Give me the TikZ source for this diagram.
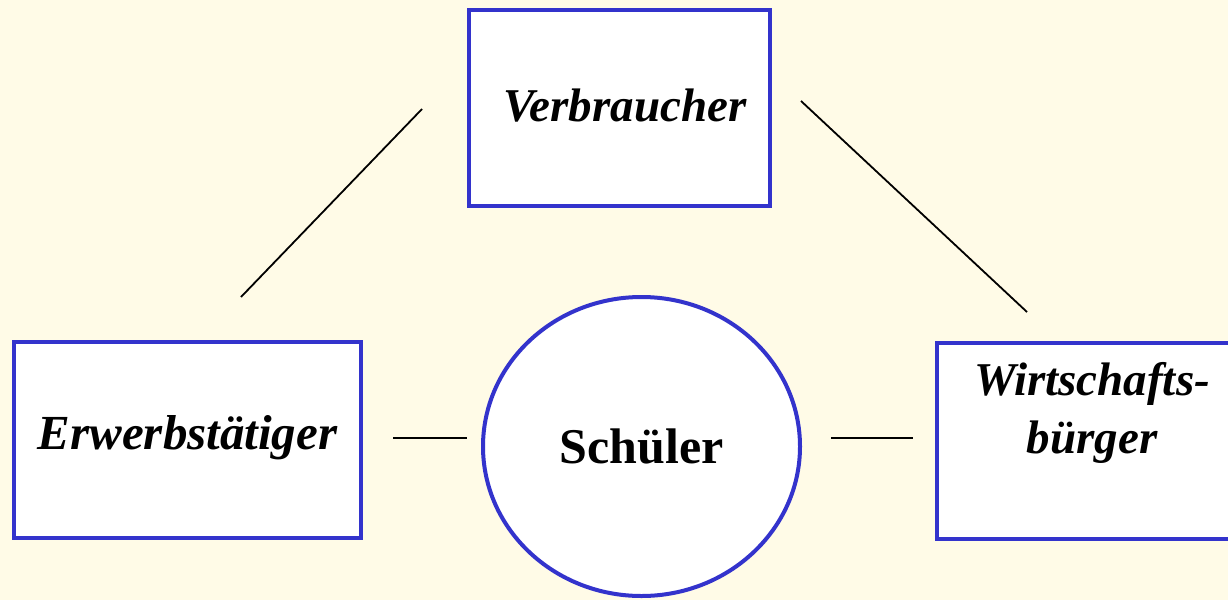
\documentclass[tikz,border=0pt]{standalone}
\usepackage{fontspec}
\setmainfont{Liberation Serif}
\usetikzlibrary{shapes.geometric}
\definecolor{bgcream}{HTML}{FFFBE7}
\definecolor{boxblue}{HTML}{3333CC}
\tikzset{
  rolebox/.style={draw=boxblue, fill=white, line width=4pt, rectangle, inner sep=0pt},
  roletext/.style={font=\fontsize{47}{58}\selectfont\bfseries\itshape, inner sep=0pt, align=center},
  centre/.style={draw=boxblue, fill=white, line width=4pt, ellipse, inner sep=0pt,
    minimum width=317pt, minimum height=299pt, font=\fontsize{50}{58}\selectfont\bfseries},
  link/.style={draw=black, line width=1.8pt}
}
\begin{document}
\begin{tikzpicture}[x=1pt,y=-1pt]
\useasboundingbox (0,0) rectangle (1228,600);
\fill[bgcream] (0,0) rectangle (1228,600);
\clip (0,0) rectangle (1228,600);

\node[rolebox, minimum width=301pt, minimum height=196pt] (verb) at (619.5,108) {};
\node[roletext] (verbt) at (625,106) {Verbraucher};

\node[rolebox, minimum width=347pt, minimum height=196pt] (erw) at (187.5,440) {};
\node[roletext, font=\fontsize{49}{58}\selectfont\bfseries\itshape] (erwt) at (187.5,438) {Erwerbstätiger};

\node[rolebox, minimum width=310pt, minimum height=196pt] (wirt) at (1092,441) {};
\node[roletext] (wirtt) at (1092,413) {Wirtschafts-\\bürger};

\node[centre] (sch) at (641.5,446.5) {Schüler};

\coordinate (l1a) at (241,297);
\coordinate (l1b) at (422,109);
\coordinate (l2a) at (801,101);
\coordinate (l2b) at (1027,312);
\coordinate (h1a) at (393,438);
\coordinate (h1b) at (467,438);
\coordinate (h2a) at (831,438);
\coordinate (h2b) at (913,438);

\draw[link] (l1a) -- (l1b);
\draw[link] (l2a) -- (l2b);
\draw[link] (h1a) -- (h1b);
\draw[link] (h2a) -- (h2b);
\end{tikzpicture}
\end{document}
